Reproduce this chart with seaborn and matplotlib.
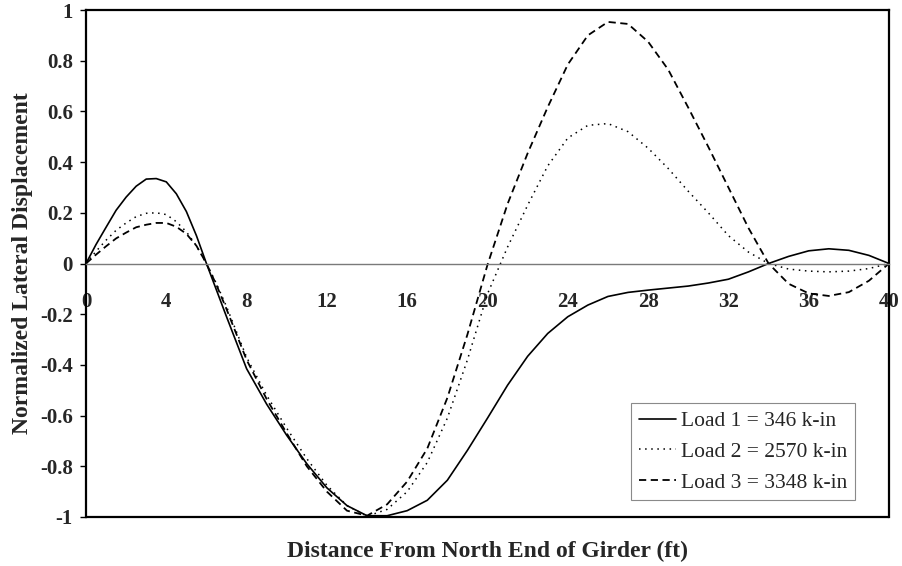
import numpy as np
import pandas as pd
import matplotlib
matplotlib.use("Agg")
import matplotlib.pyplot as plt
import seaborn as sns

# Distance along the girder (ft): half-foot steps over the first hump, then whole feet
distance = [0, 0.5, 1, 1.5, 2, 2.5, 3, 3.5, 4, 4.5, 5, 5.5, 6, 6.5, 7,
            8, 9, 10, 11, 12, 13, 14, 15, 16, 17, 18, 19, 20, 21, 22, 23,
            24, 25, 26, 27, 28, 29, 30, 31, 32, 33, 34, 35, 36, 37, 38, 39, 40]

# Normalized lateral displacement for each load level
load1 = [0.0, 0.075, 0.143, 0.21, 0.262, 0.305, 0.333, 0.335, 0.322, 0.275, 0.205,
         0.11, 0.0, -0.105, -0.21,
         -0.415, -0.555, -0.678, -0.79, -0.885, -0.955, -0.995,
         -0.995, -0.975, -0.934, -0.855, -0.737, -0.61, -0.48, -0.366,
         -0.276, -0.21, -0.164, -0.13, -0.114, -0.105, -0.097, -0.089,
         -0.077, -0.062, -0.033, 0.0, 0.028, 0.05, 0.058, 0.052, 0.032, 0.0]
load2 = [0.0, 0.048, 0.092, 0.131, 0.16, 0.185, 0.198, 0.2, 0.193, 0.165, 0.125,
         0.07, 0.0, -0.08, -0.17,
         -0.37, -0.52, -0.65, -0.77, -0.875, -0.955, -0.997,
         -0.97, -0.9, -0.785, -0.61, -0.38, -0.12, 0.065, 0.23,
         0.385, 0.495, 0.545, 0.552, 0.52, 0.455, 0.375, 0.285,
         0.2, 0.11, 0.045, 0.0, -0.022, -0.03, -0.033, -0.03, -0.02, 0.0]
load3 = [0.0, 0.035, 0.068, 0.099, 0.122, 0.143, 0.153, 0.16, 0.16, 0.145, 0.117,
         0.07, 0.0, -0.085, -0.18,
         -0.38, -0.535, -0.67, -0.8, -0.9, -0.975, -0.995,
         -0.95, -0.86, -0.73, -0.53, -0.28, -0.005, 0.235, 0.435,
         0.617, 0.785, 0.9, 0.953, 0.945, 0.875, 0.765, 0.615,
         0.46, 0.3, 0.14, 0.0, -0.08, -0.118, -0.128, -0.113, -0.068, 0.0]

series_labels = ["Load 1 = 346 k-in", "Load 2 = 2570 k-in", "Load 3 = 3348 k-in"]
x_ticks = [0, 4, 8, 12, 16, 20, 24, 28, 32, 36, 40]
y_ticks = [-1, -0.8, -0.6, -0.4, -0.2, 0, 0.2, 0.4, 0.6, 0.8, 1]
y_tick_labels = ["-1", "-0.8", "-0.6", "-0.4", "-0.2", "0", "0.2", "0.4", "0.6", "0.8", "1"]

sns.set_style("white")
plt.rcParams["font.family"] = ["Liberation Serif", "DejaVu Serif"]

fig = plt.figure(figsize=(9.02, 5.66), dpi=100)
ax = fig.add_axes([86 / 902, 1 - 517 / 566, 803 / 902, 507 / 566])

styles = [
    dict(linestyle="-", linewidth=1.2),
    dict(linestyle=(0, (1, 3)), linewidth=1.1),
    dict(linestyle=(0, (4, 2.5)), linewidth=1.3),
]
for values, label, st in zip([load1, load2, load3], series_labels, styles):
    sns.lineplot(x=distance, y=values, color="black", label=label, ax=ax, **st)

ax.set_xlim(0, 40)
ax.set_ylim(-1, 1)

# frame: x axis runs through zero, box drawn around the plot area
ax.spines["bottom"].set_position(("data", 0))
ax.spines["bottom"].set_color("#7a7a7a")
ax.spines["bottom"].set_linewidth(1.0)
for side in ["left", "right", "top"]:
    ax.spines[side].set_color("black")
    ax.spines[side].set_linewidth(1.6)
ax.axhline(-1, color="black", linewidth=1.6, clip_on=False)

ax.set_xticks(x_ticks)
ax.set_xticklabels([str(t) for t in x_ticks])
ax.set_yticks(y_ticks)
ax.set_yticklabels(y_tick_labels)
ax.tick_params(axis="x", direction="inout", length=7, width=0.8, color="#7a7a7a",
               pad=17, labelsize=15)
ax.tick_params(axis="y", direction="out", length=4.5, width=1.0, color="black",
               pad=5, labelsize=15, left=True)
for lab in ax.get_xticklabels() + ax.get_yticklabels():
    lab.set_fontweight("bold")

ax.set_xlabel("Distance From North End of Girder (ft)", fontsize=17,
              fontweight="bold", va="center")
ax.xaxis.set_label_coords(0.5, -0.068)
ax.set_ylabel("Normalized Lateral Displacement", fontsize=17,
              fontweight="bold", va="center")
ax.yaxis.set_label_coords(-0.0785, 0.5)

leg = ax.legend(loc="lower left", bbox_to_anchor=(0.679, 0.033), borderaxespad=0,
                fontsize=15.5, frameon=True, fancybox=False, framealpha=1,
                handlelength=1.75, handletextpad=0.2, labelspacing=0.5,
                borderpad=0.35)
leg.get_frame().set_edgecolor("#8a8a8a")
leg.get_frame().set_linewidth(0.8)

fig.savefig("out.png", dpi=100)
